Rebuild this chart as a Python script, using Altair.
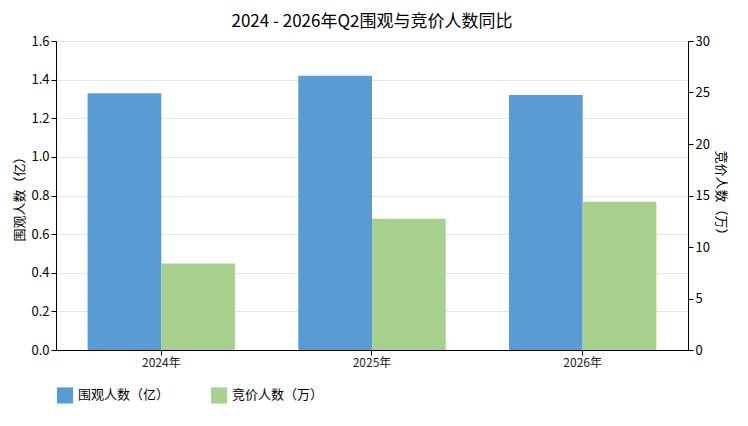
import altair as alt
import pandas as pd

years = ["2024年", "2025年", "2026年"]
views = [1.33, 1.42, 1.32]      # 亿
bidders = [8.4, 12.75, 14.4]    # 万
s1 = "围观人数（亿）"
s2 = "竞价人数（万）"

df = pd.DataFrame({
    "year": years * 2,
    "series": [s1] * 3 + [s2] * 3,
    "views": views + [None] * 3,
    "bidders": [None] * 3 + bidders,
})

F = "Noto Sans CJK SC"
color = alt.Color("series:N", scale=alt.Scale(domain=[s1, s2], range=["#5b9bd5", "#a9d18e"]),
                  legend=alt.Legend(title=None, orient="bottom", symbolType="square",
                                    symbolSize=260, labelFontSize=13, columnPadding=40, labelFont=F))
x = alt.X("year:N", title=None, scale=alt.Scale(paddingInner=0.3, paddingOuter=0.15),
          axis=alt.Axis(labelAngle=0, labelFontSize=12, domainColor="black", tickColor="black", labelColor="#222"))
xo = alt.XOffset("series:N", scale=alt.Scale(domain=[s1, s2]))
base = alt.Chart(df)

left = base.transform_filter(alt.datum.series == s1).mark_bar().encode(
    x=x, xOffset=xo, color=color,
    y=alt.Y("views:Q", title="围观人数（亿）", scale=alt.Scale(domain=[0, 1.6]),
            axis=alt.Axis(values=[0, 0.2, 0.4, 0.6, 0.8, 1.0, 1.2, 1.4, 1.6], format=".1f",
                          domainColor="black", tickColor="black", labelFontSize=13,
                          titleFontSize=13, titleFontWeight="normal", gridColor="#e6e6e6")))
right = base.transform_filter(alt.datum.series == s2).mark_bar().encode(
    x=x, xOffset=xo, color=color,
    y=alt.Y("bidders:Q", title="竞价人数（万）", scale=alt.Scale(domain=[0, 30]),
            axis=alt.Axis(orient="right", values=[0, 5, 10, 15, 20, 25, 30], grid=False,
                          domainColor="black", tickColor="black", labelFontSize=13,
                          titleFontSize=13, titleFontWeight="normal")))

chart = alt.layer(left, right).resolve_scale(y="independent").properties(
    width=632, height=309,
    title=alt.Title("2024 - 2026年Q2围观与竞价人数同比", fontSize=17, fontWeight="normal", font=F),
).configure_view(stroke=None).configure(font=F).configure_axis(labelFont=F, titleFont=F)

chart.save("out.html", embed_options={"renderer": "svg", "actions": False})
